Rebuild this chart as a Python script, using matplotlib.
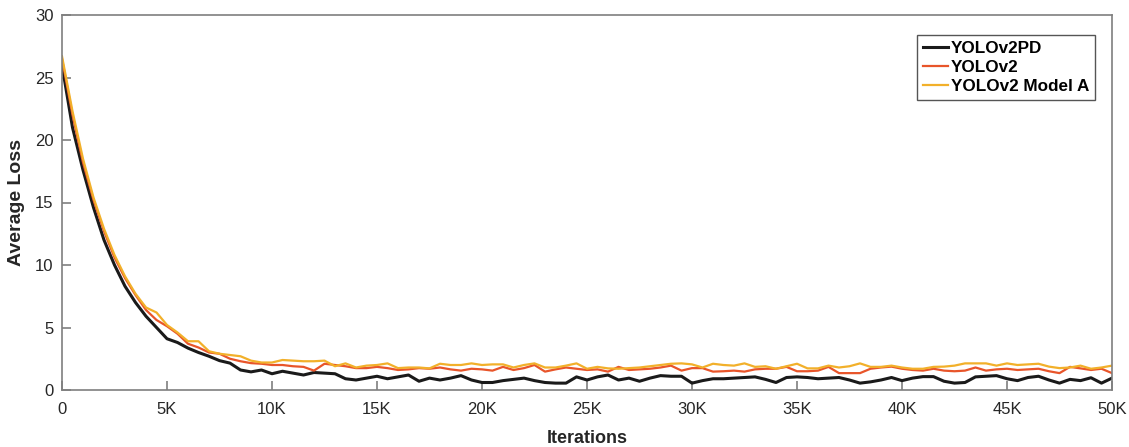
import numpy as np
import matplotlib
matplotlib.use('Agg')
import matplotlib.pyplot as plt

# iterations, one sample every 500
iterations = np.arange(0, 50001, 500)

yolov2pd = [26.0, 21.0, 17.6, 14.6, 12.0, 10.0, 8.3, 7.0, 5.9, 5.0, 4.1,
            3.8, 3.35, 3.0, 2.7, 2.35, 2.15, 1.6, 1.45, 1.6, 1.3,
            1.5, 1.35, 1.2, 1.4, 1.35, 1.3, 0.9, 0.8, 0.95, 1.1,
            0.9, 1.05, 1.2, 0.7, 0.95, 0.8, 0.95, 1.15, 0.8, 0.6,
            0.6, 0.75, 0.85, 0.95, 0.75, 0.6, 0.55, 0.55, 1.05, 0.8,
            1.05, 1.2, 0.8, 0.95, 0.7, 0.95, 1.15, 1.1, 1.1, 0.55,
            0.75, 0.9, 0.9, 0.95, 1.0, 1.05, 0.85, 0.6, 1.0, 1.05,
            1.0, 0.9, 0.95, 1.0, 0.8, 0.55, 0.65, 0.8, 1.0, 0.75,
            0.95, 1.07, 1.07, 0.7, 0.55, 0.6, 1.05, 1.1, 1.15, 0.9,
            0.75, 1.0, 1.1, 0.8, 0.55, 0.85, 0.75, 0.98, 0.55, 0.95]

yolov2 = [26.5, 22.0, 18.2, 15.2, 12.7, 10.6, 8.95, 7.6, 6.4, 5.6, 5.1,
          4.5, 3.7, 3.4, 3.0, 2.9, 2.5, 2.3, 2.15, 2.1, 2.0,
          2.0, 1.9, 1.85, 1.55, 2.1, 2.0, 1.9, 1.75, 1.75, 1.85,
          1.75, 1.6, 1.65, 1.75, 1.7, 1.8, 1.65, 1.55, 1.7, 1.65,
          1.55, 1.85, 1.6, 1.75, 2.0, 1.47, 1.65, 1.8, 1.7, 1.6,
          1.65, 1.47, 1.85, 1.6, 1.65, 1.7, 1.8, 1.95, 1.55, 1.75,
          1.75, 1.47, 1.5, 1.55, 1.47, 1.65, 1.7, 1.7, 1.85, 1.5,
          1.5, 1.55, 1.85, 1.35, 1.35, 1.35, 1.7, 1.8, 1.87, 1.7,
          1.6, 1.55, 1.7, 1.55, 1.5, 1.55, 1.8, 1.55, 1.65, 1.7,
          1.6, 1.65, 1.7, 1.5, 1.35, 1.85, 1.73, 1.6, 1.7, 1.35]

model_a = [26.7, 22.3, 18.5, 15.4, 12.9, 10.8, 9.1, 7.7, 6.6, 6.2, 5.2,
           4.6, 3.9, 3.9, 3.1, 2.9, 2.8, 2.7, 2.35, 2.2, 2.2,
           2.4, 2.35, 2.3, 2.3, 2.35, 1.9, 2.13, 1.8, 1.95, 2.0,
           2.13, 1.75, 1.8, 1.8, 1.73, 2.1, 2.0, 2.0, 2.13, 2.0,
           2.05, 2.05, 1.8, 2.0, 2.13, 1.8, 1.8, 1.95, 2.13, 1.7,
           1.85, 1.73, 1.7, 1.75, 1.8, 1.9, 2.0, 2.1, 2.13, 2.05,
           1.8, 2.1, 2.0, 1.95, 2.13, 1.85, 1.9, 1.7, 1.9, 2.1,
           1.73, 1.73, 1.95, 1.8, 1.9, 2.13, 1.85, 1.85, 1.95, 1.8,
           1.7, 1.7, 1.85, 1.87, 1.95, 2.13, 2.13, 2.13, 1.95, 2.13,
           2.0, 2.05, 2.1, 1.87, 1.75, 1.8, 1.95, 1.7, 1.8, 1.95]

xticks = np.arange(0, 50001, 5000)
xticklabels = ['0', '5K', '10K', '15K', '20K', '25K', '30K', '35K', '40K', '45K', '50K']
yticks = [0, 5, 10, 15, 20, 25, 30]

plt.rcParams['font.family'] = ['Liberation Sans', 'DejaVu Sans']

fig = plt.figure(figsize=(11.29, 4.47), dpi=100)
ax = fig.add_axes([62 / 1129, 57 / 447, 1050 / 1129, 375 / 447])

ax.plot(iterations, yolov2pd, color='#1a1a1a', lw=2.2, label='YOLOv2PD')
ax.plot(iterations, yolov2, color='#e8552a', lw=1.6, label='YOLOv2')
ax.plot(iterations, model_a, color='#f2b02a', lw=1.6, label='YOLOv2 Model A')

ax.set_xlim(0, 50000)
ax.set_ylim(0, 30)
ax.set_xticks(xticks)
ax.set_xticklabels(xticklabels, fontsize=12)
ax.set_yticks(yticks)
for lab in ax.get_yticklabels():
    lab.set_fontsize(12)

for s in ax.spines.values():
    s.set_color('#7f7f7f')
    s.set_linewidth(1.2)
ax.tick_params(direction='in', length=6.5, width=1.2, color='#7f7f7f',
               labelcolor='#262626')
ax.tick_params(axis='x', pad=9)
ax.tick_params(axis='y', pad=6)

ax.set_xlabel('Iterations', fontsize=13, fontweight='bold',
              color='#262626', labelpad=9)
ax.set_ylabel('Average Loss', fontsize=14, fontweight='bold', color='#262626',
              labelpad=7)

leg = ax.legend(loc='upper right', bbox_to_anchor=(0.984, 0.947), borderaxespad=0,
                fancybox=False, framealpha=1, edgecolor='#555555',
                prop={'weight': 'bold', 'size': 12.3},
                handlelength=1.5, handletextpad=0.15, labelspacing=0.25,
                borderpad=0.35)
leg.get_frame().set_linewidth(1.0)

fig.savefig('out.png', dpi=100)
